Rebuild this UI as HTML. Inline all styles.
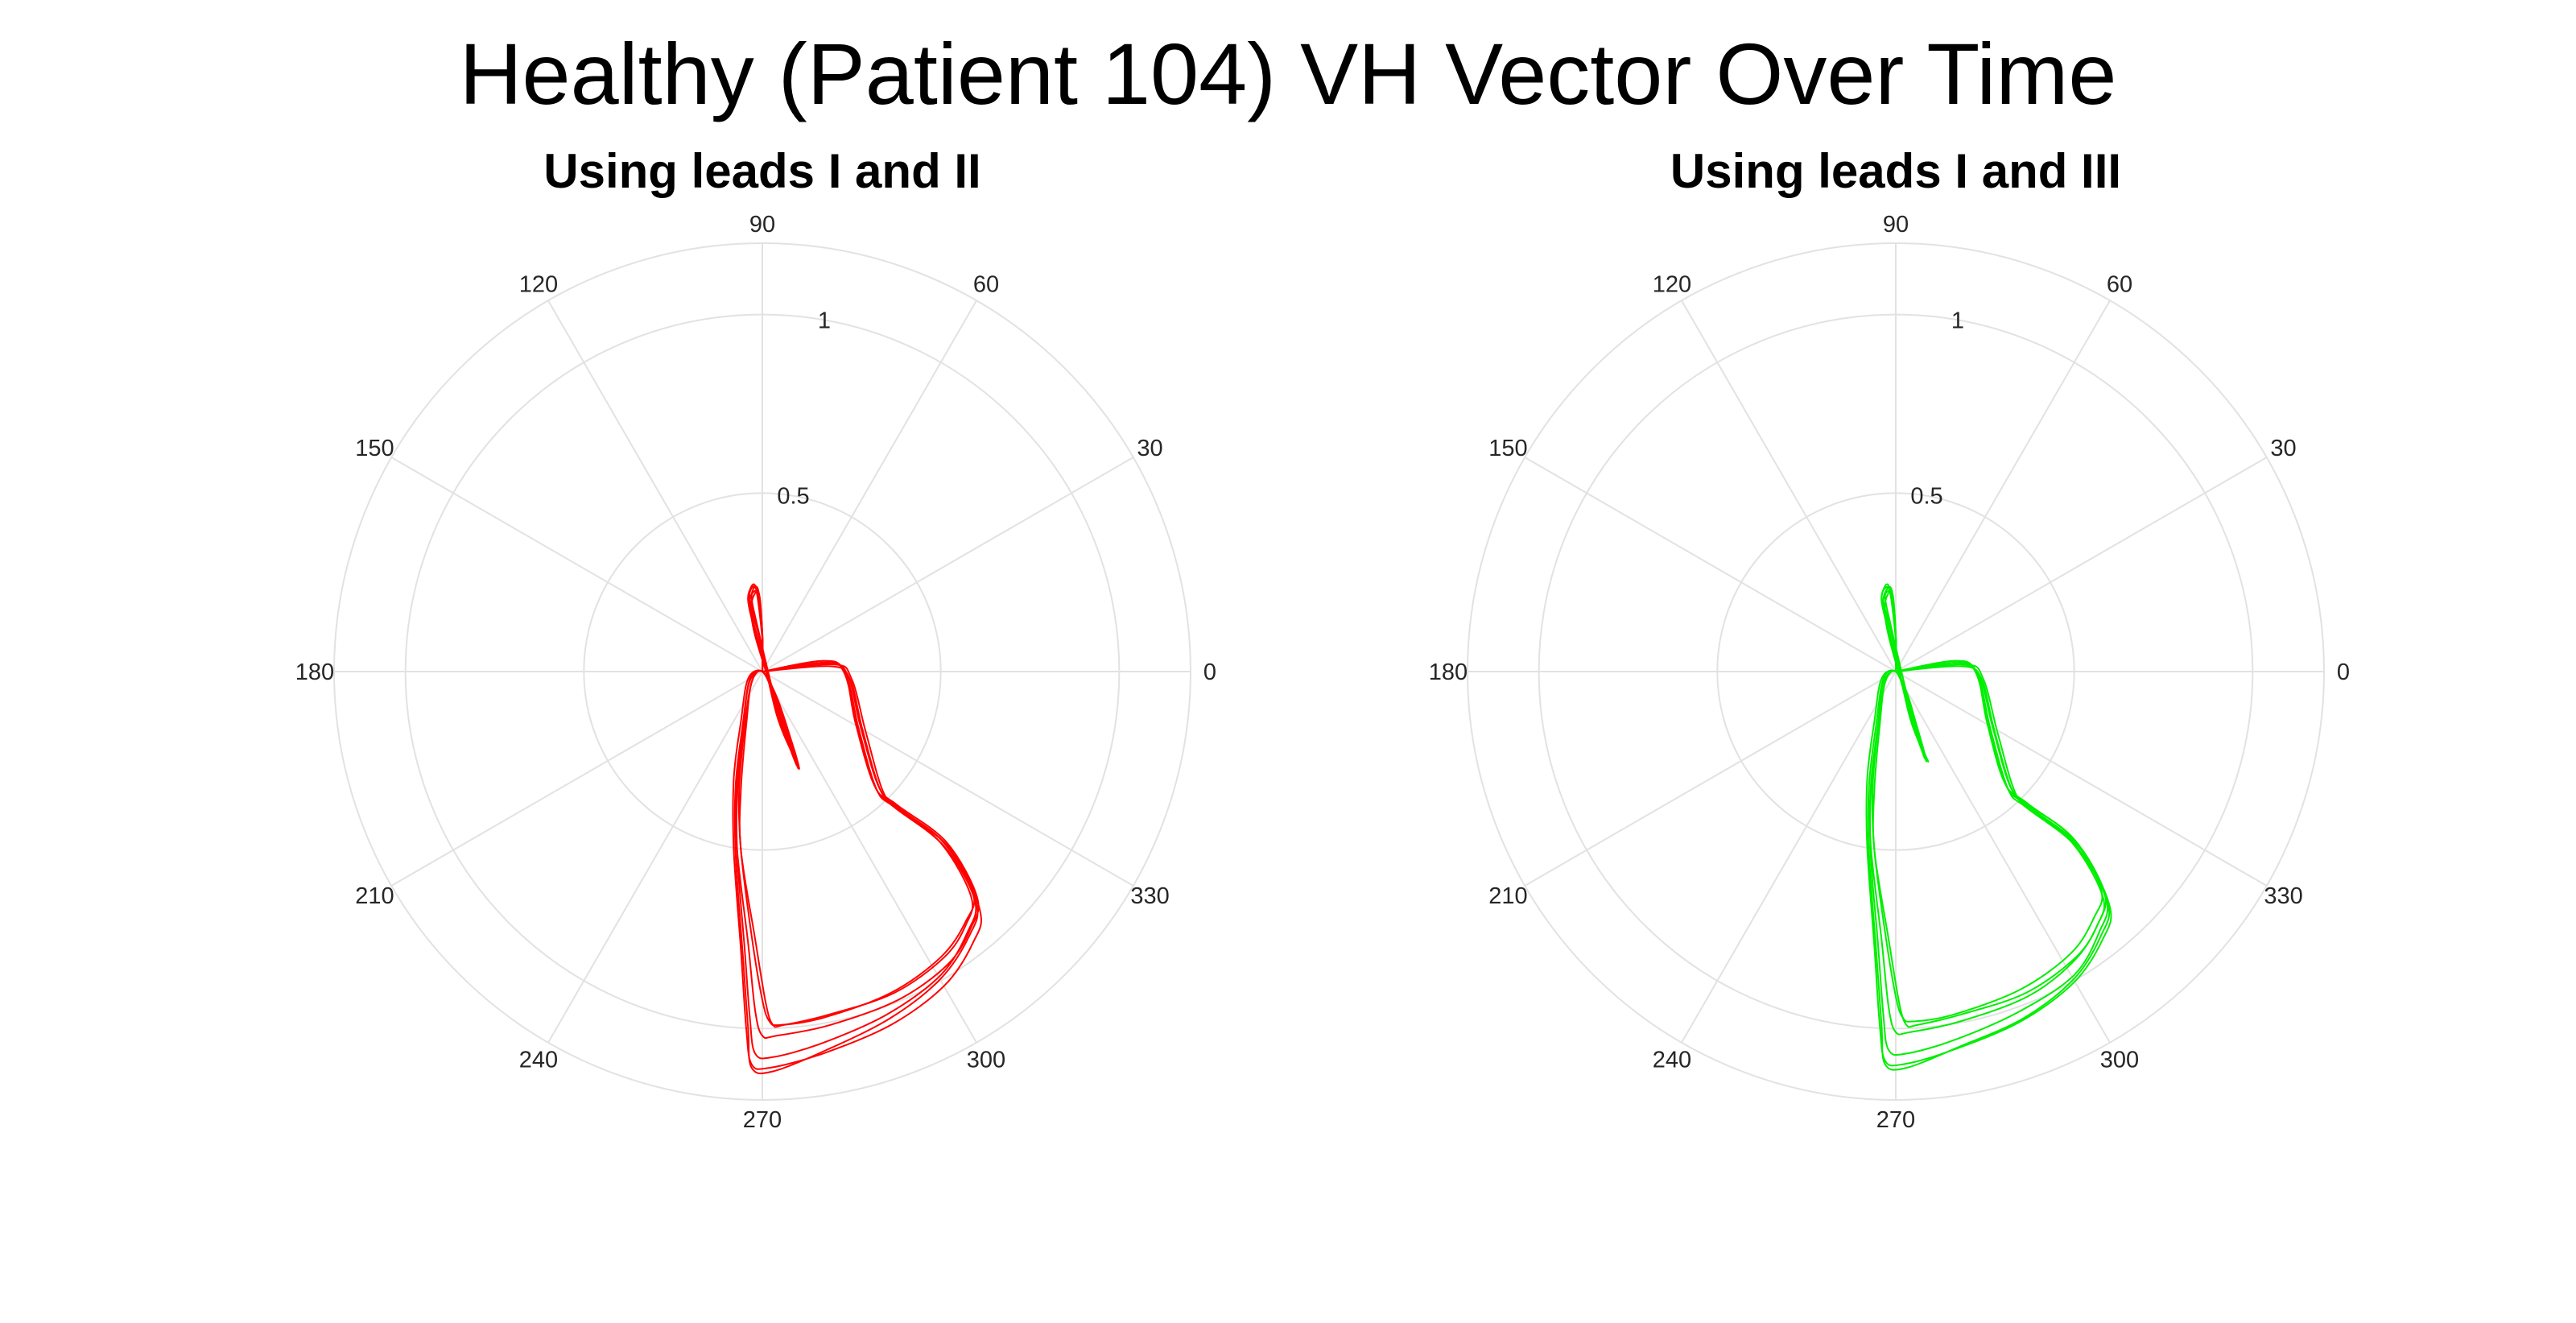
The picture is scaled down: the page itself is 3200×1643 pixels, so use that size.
<!DOCTYPE html>
<html><head><meta charset="utf-8">
<style>
html,body{margin:0;padding:0;background:#fff;}
svg{display:block;font-family:"Liberation Sans",Arial,sans-serif;}
</style></head>
<body>
<svg id="chart" width="3200" height="1643" viewBox="0 0 3200 1643" xmlns="http://www.w3.org/2000/svg">
<rect width="3200" height="1643" fill="#fff"/>
<text x="1600" y="129" font-size="108" text-anchor="middle" fill="#000">Healthy (Patient 104) VH Vector Over Time</text>
<g id="leftPlot"></g>
<g id="rightPlot"></g>
</svg>
<script>
// Vector components (x = horizontal, y = vertical), normalized magnitude units
const redBeat1 = [[0,0],[0.188,0.022],[0.24,-0.012],[0.274,-0.15],[0.326,-0.322],[0.378,-0.374],[0.516,-0.478],[0.602,-0.633],[0.584,-0.719],[0.52,-0.82],[0.38,-0.92],[0.19,-0.99],[0.04,-1.02],[0.0,-1.02],[-0.02,-0.95],[-0.04,-0.76],[-0.071,-0.495],[-0.071,-0.322],[-0.053,-0.15],[-0.036,-0.029],[0,0],[0.033,-0.064],[0.084,-0.202],[0.102,-0.271],[0.05,-0.133],[-0.01,0.109],[-0.036,0.212],[-0.014,0.233],[0,0.109],[0,0]];
const redBeat2 = [[0,0],[0.17,0.03],[0.23,0],[0.26,-0.14],[0.31,-0.31],[0.36,-0.37],[0.5,-0.47],[0.59,-0.62],[0.57,-0.7],[0.5,-0.8],[0.36,-0.9],[0.17,-0.97],[0.05,-0.99],[0.02,-0.98],[0.0,-0.92],[-0.03,-0.74],[-0.06,-0.5],[-0.065,-0.33],[-0.05,-0.16],[-0.03,-0.03],[0,0],[0.04,-0.07],[0.08,-0.19],[0.095,-0.25],[0.05,-0.12],[-0.02,0.1],[-0.03,0.19],[-0.01,0.22],[0,0.1],[0,0]];
const redBeat3 = [[0,0],[0.2,0.02],[0.25,-0.02],[0.29,-0.17],[0.34,-0.34],[0.39,-0.39],[0.53,-0.5],[0.61,-0.67],[0.59,-0.76],[0.51,-0.88],[0.36,-0.99],[0.17,-1.07],[0.02,-1.11],[-0.03,-1.1],[-0.045,-1.0],[-0.06,-0.78],[-0.08,-0.5],[-0.08,-0.3],[-0.06,-0.14],[-0.04,-0.02],[0,0],[0.03,-0.06],[0.07,-0.18],[0.09,-0.24],[0.04,-0.12],[-0.015,0.12],[-0.04,0.2],[-0.02,0.24],[0,0.09],[0,0]];
const redBeat4 = [[0,0],[0.18,0.025],[0.235,-0.01],[0.27,-0.16],[0.32,-0.33],[0.37,-0.38],[0.51,-0.49],[0.595,-0.64],[0.575,-0.73],[0.5,-0.85],[0.35,-0.96],[0.17,-1.04],[0.03,-1.08],[-0.02,-1.07],[-0.035,-0.97],[-0.05,-0.77],[-0.07,-0.52],[-0.07,-0.34],[-0.05,-0.16],[-0.03,-0.03],[0,0],[0.035,-0.07],[0.075,-0.2],[0.1,-0.26],[0.045,-0.13],[-0.01,0.11],[-0.03,0.21],[-0.012,0.23],[0,0.1],[0,0]];
const redBeat5 = [[0,0],[0.19,0.015],[0.245,-0.02],[0.28,-0.16],[0.33,-0.33],[0.38,-0.38],[0.52,-0.49],[0.6,-0.65],[0.58,-0.74],[0.5,-0.86],[0.36,-0.97],[0.18,-1.06],[0.03,-1.12],[-0.03,-1.11],[-0.04,-1.0],[-0.055,-0.79],[-0.075,-0.51],[-0.075,-0.32],[-0.055,-0.15],[-0.035,-0.02],[0,0],[0.03,-0.06],[0.08,-0.2],[0.1,-0.27],[0.05,-0.13],[-0.02,0.11],[-0.04,0.21],[-0.015,0.23],[0,0.1],[0,0]];
const redBeat6 = [[0,0],[0.175,0.03],[0.23,-0.005],[0.265,-0.15],[0.315,-0.32],[0.365,-0.37],[0.5,-0.48],[0.585,-0.63],[0.57,-0.71],[0.51,-0.8],[0.37,-0.9],[0.19,-0.96],[0.06,-0.99],[0.03,-0.99],[0.01,-0.93],[-0.02,-0.75],[-0.06,-0.5],[-0.06,-0.33],[-0.045,-0.15],[-0.03,-0.03],[0,0],[0.035,-0.065],[0.075,-0.19],[0.095,-0.26],[0.045,-0.12],[-0.015,0.1],[-0.035,0.2],[-0.01,0.22],[0,0.1],[0,0]];
const greenBeat1 = [[0,0],[0.18,0.02],[0.235,-0.015],[0.27,-0.15],[0.32,-0.32],[0.37,-0.37],[0.5,-0.47],[0.585,-0.62],[0.565,-0.71],[0.5,-0.81],[0.37,-0.91],[0.18,-0.98],[0.04,-1.01],[0.0,-1.01],[-0.02,-0.94],[-0.04,-0.75],[-0.07,-0.49],[-0.07,-0.32],[-0.05,-0.15],[-0.035,-0.03],[0,0],[0.03,-0.06],[0.07,-0.19],[0.085,-0.25],[0.045,-0.12],[-0.01,0.11],[-0.035,0.2],[-0.012,0.23],[0,0.1],[0,0]];
const greenBeat2 = [[0,0],[0.165,0.03],[0.225,0],[0.255,-0.14],[0.3,-0.3],[0.35,-0.36],[0.49,-0.46],[0.575,-0.61],[0.555,-0.69],[0.49,-0.79],[0.35,-0.89],[0.165,-0.96],[0.05,-0.98],[0.02,-0.97],[0.0,-0.91],[-0.03,-0.73],[-0.06,-0.5],[-0.065,-0.33],[-0.05,-0.16],[-0.03,-0.03],[0,0],[0.035,-0.07],[0.065,-0.18],[0.08,-0.23],[0.04,-0.11],[-0.02,0.1],[-0.03,0.19],[-0.01,0.22],[0,0.1],[0,0]];
const greenBeat3 = [[0,0],[0.195,0.02],[0.245,-0.02],[0.285,-0.17],[0.335,-0.34],[0.385,-0.39],[0.52,-0.5],[0.6,-0.66],[0.58,-0.75],[0.5,-0.87],[0.35,-0.98],[0.16,-1.06],[0.02,-1.1],[-0.03,-1.09],[-0.045,-0.99],[-0.06,-0.77],[-0.08,-0.49],[-0.08,-0.3],[-0.06,-0.14],[-0.04,-0.02],[0,0],[0.03,-0.06],[0.06,-0.17],[0.075,-0.22],[0.035,-0.11],[-0.015,0.12],[-0.04,0.2],[-0.02,0.24],[0,0.09],[0,0]];
const greenBeat4 = [[0,0],[0.175,0.025],[0.23,-0.01],[0.265,-0.16],[0.315,-0.33],[0.365,-0.38],[0.505,-0.49],[0.59,-0.64],[0.57,-0.73],[0.5,-0.85],[0.35,-0.95],[0.17,-1.03],[0.03,-1.07],[-0.02,-1.06],[-0.035,-0.96],[-0.05,-0.76],[-0.07,-0.52],[-0.07,-0.34],[-0.05,-0.16],[-0.03,-0.03],[0,0],[0.03,-0.07],[0.07,-0.2],[0.09,-0.25],[0.04,-0.13],[-0.01,0.11],[-0.03,0.21],[-0.012,0.23],[0,0.1],[0,0]];
const greenBeat5 = [[0,0],[0.185,0.015],[0.24,-0.02],[0.275,-0.16],[0.325,-0.33],[0.375,-0.38],[0.515,-0.49],[0.595,-0.65],[0.575,-0.74],[0.5,-0.86],[0.36,-0.97],[0.18,-1.05],[0.03,-1.11],[-0.03,-1.1],[-0.04,-0.99],[-0.055,-0.78],[-0.075,-0.51],[-0.075,-0.32],[-0.055,-0.15],[-0.035,-0.02],[0,0],[0.03,-0.06],[0.065,-0.19],[0.08,-0.24],[0.04,-0.12],[-0.02,0.11],[-0.04,0.21],[-0.015,0.23],[0,0.1],[0,0]];
const greenBeat6 = [[0,0],[0.17,0.03],[0.225,-0.005],[0.26,-0.15],[0.31,-0.32],[0.36,-0.37],[0.495,-0.48],[0.58,-0.63],[0.565,-0.71],[0.505,-0.8],[0.365,-0.9],[0.185,-0.96],[0.06,-0.99],[0.03,-0.99],[0.01,-0.93],[-0.02,-0.75],[-0.06,-0.5],[-0.06,-0.33],[-0.045,-0.15],[-0.03,-0.03],[0,0],[0.03,-0.065],[0.065,-0.19],[0.08,-0.24],[0.04,-0.12],[-0.015,0.1],[-0.035,0.2],[-0.01,0.22],[0,0.1],[0,0]];
const angleTicks = [0,30,60,90,120,150,180,210,240,270,300,330];
const radialTicks = [0.5,1];
const rMax = 1.2;

const NS = "http://www.w3.org/2000/svg";
const R = 532; // pixel radius at rMax
function rScale(v){ return v / rMax * R; }
function mk(tag, attrs, parent){
  const e = document.createElementNS(NS, tag);
  for (const k in attrs) e.setAttribute(k, attrs[k]);
  parent.appendChild(e);
  return e;
}
function smoothPath(pts, cx, cy){
  const P = pts.map(p => [cx + rScale(p[0]), cy - rScale(p[1])]);
  let d = "M" + P[0][0].toFixed(1) + "," + P[0][1].toFixed(1);
  for (let i = 0; i < P.length - 1; i++){
    const p0 = P[Math.max(0,i-1)], p1 = P[i], p2 = P[i+1], p3 = P[Math.min(P.length-1,i+2)];
    const c1 = [p1[0] + (p2[0]-p0[0])/6, p1[1] + (p2[1]-p0[1])/6];
    const c2 = [p2[0] - (p3[0]-p1[0])/6, p2[1] - (p3[1]-p1[1])/6];
    d += " C" + c1[0].toFixed(1)+","+c1[1].toFixed(1)+" "+c2[0].toFixed(1)+","+c2[1].toFixed(1)+" "+p2[0].toFixed(1)+","+p2[1].toFixed(1);
  }
  return d;
}
function drawPolar(g, cx, cy, title, beats, color){
  const t = mk("text", {x: cx, y: 233, "font-size": 60, "font-weight": "bold", "text-anchor": "middle", fill: "#000"}, g);
  
  
  t.textContent = title;
  [...radialTicks, rMax].forEach(v => {
    const c = mk("circle", {cx: cx, cy: cy, r: rScale(v), fill: "none", stroke: "#e2e2e2", "stroke-width": 2}, g);
    
    
  });
  angleTicks.forEach(a => {
    const rad = a * Math.PI / 180;
    const l = mk("line", {x1: cx, y1: cy, x2: cx + R*Math.cos(rad), y2: cy - R*Math.sin(rad), stroke: "#e2e2e2", "stroke-width": 2}, g);
    
    
    const lr = R + 24;
    const tx = mk("text", {x: cx + lr*Math.cos(rad), y: cy - lr*Math.sin(rad) + 10, "font-size": 29, "text-anchor": "middle", fill: "#262626"}, g);
    
    
    tx.textContent = String(a);
  });
  radialTicks.forEach(v => {
    const rad = 80 * Math.PI / 180;
    const rr = rScale(v);
    const tx = mk("text", {x: cx + rr*Math.cos(rad), y: cy - rr*Math.sin(rad) + 10, "font-size": 29, "text-anchor": "middle", fill: "#262626"}, g);
    
    
    tx.textContent = String(v);
  });
  beats.forEach(b => {
    const p = mk("path", {d: smoothPath(b, cx, cy), fill: "none", stroke: color, "stroke-width": 2, "stroke-linejoin": "round"}, g);
    
    
  });
}
drawPolar(document.getElementById("leftPlot"), 947, 834, "Using leads I and II", [redBeat1, redBeat2, redBeat3, redBeat4, redBeat5, redBeat6], "#ff0000");
drawPolar(document.getElementById("rightPlot"), 2355, 834, "Using leads I and III", [greenBeat1, greenBeat2, greenBeat3, greenBeat4, greenBeat5, greenBeat6], "#00ee00");
</script>
</body></html>
